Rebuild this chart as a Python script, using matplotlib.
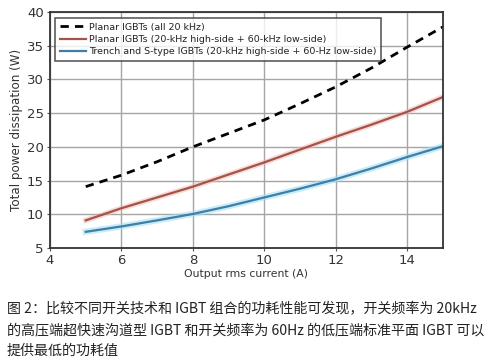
"""
IGBT power dissipation comparison chart with Chinese caption.
"""

import matplotlib
matplotlib.use("Agg")
import matplotlib.pyplot as plt

# ====================================================================
# DATA
# ====================================================================

current = [5, 6, 7, 8, 9, 10, 11, 12, 13, 14, 15]
planar_all = [14.1, 15.8, 17.8, 20.0, 22.0, 24.0, 26.4, 28.9, 31.7, 34.8, 37.8]
planar_mixed = [9.1, 10.9, 12.5, 14.1, 15.9, 17.7, 19.6, 21.5, 23.3, 25.2, 27.4]
trench_mixed = [7.4, 8.2, 9.1, 10.05, 11.2, 12.5, 13.8, 15.2, 16.8, 18.5, 20.1]

series_labels = [
    'Planar IGBTs (all 20 kHz)',
    'Planar IGBTs (20-kHz high-side + 60-kHz low-side)',
    'Trench and S-type IGBTs (20-kHz high-side + 60-Hz low-side)',
]

x_ticks = [4, 6, 8, 10, 12, 14]
y_ticks = [5, 10, 15, 20, 25, 30, 35, 40]

caption_lines = [
    '图 2：比较不同开关技术和 IGBT 组合的功耗性能可发现，开关频率为 20kHz',
    '的高压端超快速沟道型 IGBT 和开关频率为 60Hz 的低压端标准平面 IGBT 可以',
    '提供最低的功耗值',
]

RED = '#a5524a'
BLUE = '#3d7fa6'

# ====================================================================
# FIGURE
# ====================================================================

fig = plt.figure(figsize=(4.91, 3.58), dpi=100)
ax = fig.add_axes([50 / 491, 1 - 248 / 358, 393 / 491, 236 / 358])

# soft halo under the coloured curves, as in the scanned original
ax.plot(current, planar_mixed, color='#f2b8b0', linewidth=4, alpha=0.5)
ax.plot(current, trench_mixed, color='#a8e0f5', linewidth=4.5, alpha=0.6)

l1, = ax.plot(current, planar_all, color='black', linewidth=2,
              linestyle=(0, (3, 2.2)))
l2, = ax.plot(current, planar_mixed, color=RED, linewidth=1.6)
l3, = ax.plot(current, trench_mixed, color=BLUE, linewidth=1.6)

ax.set_xlim(4, 15)
ax.set_ylim(5, 40)
ax.set_xticks(x_ticks)
ax.set_yticks(y_ticks)
ax.grid(True, color='#a5a5a5', linewidth=1.0)
ax.set_axisbelow(True)
ax.tick_params(axis='both', labelsize=9.5, colors='#555555', length=2.5,
               labelcolor='#333333', pad=2)
for spine in ax.spines.values():
    spine.set_color('#333333')
    spine.set_linewidth(1.3)

ax.set_xlabel('Output rms current (A)', fontsize=7.8, color='#333333', labelpad=1)
ax.set_ylabel('Total power dissipation (W)', fontsize=8.6, color='#333333',
              labelpad=3)

leg = ax.legend([l1, l2, l3], series_labels, loc='upper left',
                bbox_to_anchor=(0.013, 0.975), fontsize=6.8, frameon=True,
                fancybox=False, handlelength=2.8, handletextpad=0.3,
                borderpad=0.5, labelspacing=0.35, borderaxespad=0.0)
leg.get_frame().set_edgecolor('#333333')
leg.get_frame().set_linewidth(1.2)
for t in leg.get_texts():
    t.set_color('#222222')

# caption below the chart
for i, line in enumerate(caption_lines):
    fig.text(7 / 491, 1 - (309 + 21 * i) / 358, line, fontsize=10.1,
             family=['Noto Sans CJK SC', 'DejaVu Sans'], color='#222222',
             va='center', ha='left')

fig.savefig('out.png', dpi=100)
